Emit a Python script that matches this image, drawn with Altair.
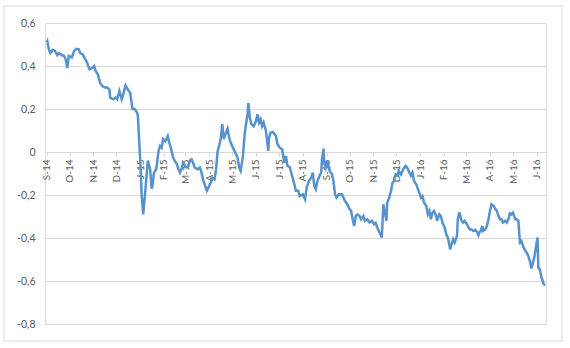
import altair as alt
import pandas as pd

start_date = "2014-09-01"

day_offsets = [
    0, 1, 3, 5, 8, 11, 14, 16, 20, 23, 25, 27, 29, 33, 36, 39, 42, 44, 47, 50,
    52, 56, 59, 62, 64, 67, 70, 73, 76, 79, 82, 83, 87, 90, 92, 95, 98, 100, 103, 106,
    109, 112, 115, 118, 119, 122, 124, 126, 129, 132, 135, 137, 138, 140, 143, 146, 148, 150, 152, 155,
    158, 160, 162, 165, 167, 170, 172, 174, 176, 178, 181, 184, 187, 189, 191, 193, 197, 200, 202, 204,
    206, 209, 214, 216, 219, 221, 223, 225, 227, 229, 231, 233, 236, 238, 240, 243, 246, 249, 251, 253,
    256, 258, 260, 262, 263, 265, 267, 270, 273, 275, 277, 279, 281, 283, 286, 289, 290, 292, 295, 299,
    301, 304, 307, 310, 312, 314, 317, 320, 323, 325, 328, 330, 334, 337, 339, 342, 345, 347, 349, 351,
    353, 356, 358, 359, 361, 362, 364, 366, 369, 372, 374, 376, 378, 381, 385, 387, 389, 392, 395, 397,
    399, 401, 403, 405, 408, 410, 413, 415, 418, 421, 424, 427, 429, 432, 435, 437, 439, 441, 443, 444,
    446, 449, 451, 453, 455, 458, 459, 462, 465, 468, 470, 472, 475, 477, 479, 482, 484, 486, 488, 490,
    492, 495, 497, 499, 501, 503, 505, 508, 509, 512, 514, 516, 519, 521, 523, 525, 526, 528, 530, 532,
    535, 536, 538, 541, 543, 545, 548, 550, 552, 554, 556, 559, 561, 563, 564, 566, 568, 569, 572, 574,
    576, 578, 580, 583, 585, 587, 589, 591, 593, 595, 598, 600, 602, 604, 606, 608, 611, 613, 615, 617,
    619, 621, 624, 626, 628, 630, 632, 634, 636, 640, 641, 643, 645, 646, 648, 650,
]

values = [
    0.51, 0.516, 0.478, 0.46, 0.475, 0.47, 0.45, 0.46, 0.45, 0.447, 0.43, 0.39, 0.447, 0.44, 0.47, 0.48, 0.478, 0.46, 0.455, 0.434,
    0.423, 0.385, 0.39, 0.40, 0.377, 0.36, 0.32, 0.307, 0.30, 0.30, 0.29, 0.253, 0.245, 0.253, 0.245, 0.284, 0.245, 0.268, 0.31, 0.29,
    0.276, 0.20, 0.20, 0.183, 0.17, -0.03, -0.20, -0.29, -0.17, -0.04, -0.08, -0.17, -0.16, -0.096, -0.08, 0.005, 0.028, 0.02, 0.06, 0.05,
    0.074, 0.044, 0.02, -0.026, -0.04, -0.057, -0.08, -0.096, -0.08, -0.05, -0.068, -0.072, -0.04, -0.034, -0.05, -0.072, -0.08, -0.072, -0.096, -0.127,
    -0.15, -0.18, -0.142, -0.12, -0.127, -0.08, 0.005, 0.028, 0.06, 0.13, 0.06, 0.082, 0.109, 0.067, 0.044, 0.02, -0.003, -0.026, -0.072, -0.088,
    -0.019, 0.074, 0.13, 0.175, 0.227, 0.16, 0.13, 0.12, 0.144, 0.175, 0.137, 0.152, 0.12, 0.137, 0.098, 0.005, 0.067, 0.09, 0.093, 0.074,
    0.036, 0.02, 0.013, -0.05, -0.019, -0.065, -0.07, -0.11, -0.15, -0.18, -0.18, -0.205, -0.197, -0.22, -0.166, -0.135, -0.12, -0.096, -0.158, -0.173,
    -0.135, -0.11, -0.096, -0.034, 0.016, -0.05, -0.072, -0.04, -0.088, -0.104, -0.135, -0.197, -0.212, -0.197, -0.197, -0.212, -0.228, -0.243, -0.266, -0.274,
    -0.313, -0.344, -0.298, -0.29, -0.298, -0.313, -0.298, -0.32, -0.313, -0.328, -0.32, -0.336, -0.33, -0.36, -0.383, -0.398, -0.243, -0.282, -0.32, -0.235,
    -0.22, -0.18, -0.142, -0.135, -0.104, -0.11, -0.088, -0.104, -0.08, -0.065, -0.072, -0.088, -0.11, -0.096, -0.135, -0.15, -0.173, -0.19, -0.212, -0.205,
    -0.235, -0.251, -0.29, -0.274, -0.313, -0.282, -0.274, -0.298, -0.32, -0.29, -0.298, -0.328, -0.352, -0.383, -0.398, -0.43, -0.453, -0.43, -0.406, -0.421,
    -0.39, -0.313, -0.28, -0.32, -0.328, -0.32, -0.336, -0.352, -0.36, -0.36, -0.367, -0.363, -0.372, -0.387, -0.375, -0.367, -0.344, -0.367, -0.36, -0.344,
    -0.313, -0.274, -0.243, -0.251, -0.266, -0.274, -0.298, -0.313, -0.313, -0.328, -0.32, -0.328, -0.313, -0.285, -0.29, -0.282, -0.313, -0.313, -0.32, -0.421,
    -0.414, -0.437, -0.46, -0.468, -0.484, -0.507, -0.542, -0.515, -0.484, -0.398, -0.538, -0.546, -0.584, -0.592, -0.615, -0.62,
]

y_ticks = [-0.8, -0.6, -0.4, -0.2, 0, 0.2, 0.4, 0.6]

df = pd.DataFrame({
    "date": pd.Timestamp(start_date) + pd.to_timedelta(day_offsets, unit="D"),
    "value": values,
})

FONT = "Lato"
LABEL_COLOR = "#595959"
GRID = "#d9d9d9"

y_label_expr = (
    "datum.value == 0 ? '0' : (datum.value < 0 ? '-' : '') + "
    "replace(format(abs(datum.value), '.1f'), '.', ',')"
)
x_label_expr = (
    "substring(timeFormat(datum.value, '%B'), 0, 1) + '-' + timeFormat(datum.value, '%y')"
)

line = alt.Chart(df).mark_line(color="#5592CE", strokeWidth=2.5).encode(
    x=alt.X(
        "date:T",
        scale=alt.Scale(domain=[alt.DateTime(year=2014, month=8, date=30),
                                alt.DateTime(year=2016, month=6, date=13)]),
        axis=alt.Axis(
            title="",
            orient="bottom",
            offset=-172,
            tickCount={"interval": "month", "step": 1},
            labelExpr=x_label_expr,
            labelAngle=270,
            labelOverlap=False,
            labelFont=FONT,
            labelFontSize=10,
            labelColor=LABEL_COLOR,
            labelPadding=3,
            tickSize=4,
            tickColor=GRID,
            domainColor=GRID,
            grid=False,
        ),
    ),
    y=alt.Y(
        "value:Q",
        scale=alt.Scale(domain=[-0.8, 0.6], nice=False),
        axis=alt.Axis(
            title="",
            values=y_ticks,
            labelExpr=y_label_expr,
            labelFont=FONT,
            labelFontSize=10.5,
            labelColor=LABEL_COLOR,
            labelPadding=10,
            domain=False,
            ticks=False,
            grid=True,
            gridColor=GRID,
            gridWidth=1,
        ),
    ),
)

border = alt.Chart(pd.DataFrame({"k": [0]})).mark_rect(
    filled=False, stroke=GRID, strokeWidth=1
).encode(
    x=alt.value(-41), x2=alt.value(517), y=alt.value(-17), y2=alt.value(318)
)

chart = alt.layer(line, border).properties(
    width=501,
    height=301,
    autosize=alt.AutoSizeParams(type="none"),
    padding={"left": 45, "top": 23, "right": 24, "bottom": 24},
).configure_view(strokeWidth=0).configure(background="white")

chart.save("out.html", embed_options={"renderer": "svg", "actions": False})
